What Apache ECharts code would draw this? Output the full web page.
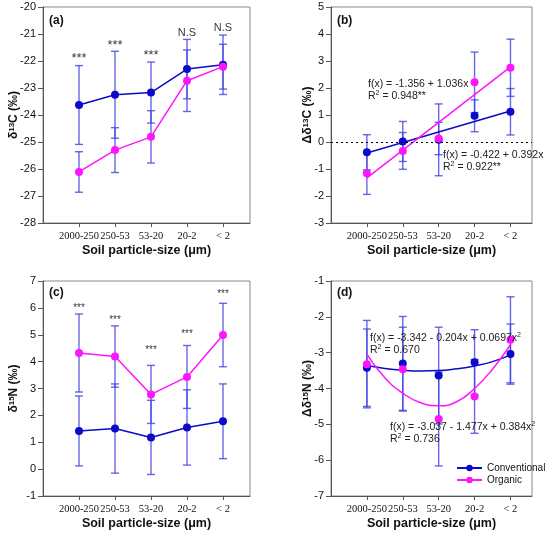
<!DOCTYPE html>
<html>
<head>
<meta charset="UTF-8">
<title>Soil particle-size isotopes</title>
<script src="https://cdn.jsdelivr.net/npm/echarts@6/dist/echarts.min.js"></script>
<style>
    html, body { margin: 0; padding: 0; background: #fff; }
    #chart { width: 550px; height: 535px; }
</style>
</head>
<body>
<div id="chart"></div>
<script>
// categories (x index 0..4)
const sizeClasses = ['2000-250', '250-53', '53-20', '20-2', '< 2'];
const xIdx = [0, 1, 2, 3, 4];

// (a) δ13C
const convC13 = [-23.63, -23.25, -23.17, -22.30, -22.14];
const convC13Err = [1.46, 1.61, 1.13, 1.10, 1.10];
const orgC13 = [-26.11, -25.30, -24.81, -22.73, -22.21];
const orgC13Err = [0.75, 0.83, 0.97, 1.14, 0.83];
const sigC13 = ['***', '***', '***', 'N.S', 'N.S'];
const sigC13Y = [-21.78, -21.32, -21.68, -20.95, -20.79];

// (b) Δδ13C
const convDC13 = [-0.38, 0.02, 0.08, 0.97, 1.12];
const convDC13Err = [0.65, 0.74, 1.33, 0.59, 0.86];
const orgDC13 = [-1.16, -0.33, 0.13, 2.21, 2.75];
const orgDC13Err = [0.78, 0.68, 0.60, 1.12, 1.06];
const fitXb = [0, 4];
const convDC13Fit = [-0.41, 1.15];
const orgDC13Fit = [-1.33, 2.78];

// (c) δ15N
const convN15 = [1.42, 1.51, 1.18, 1.55, 1.78];
const convN15Err = [1.30, 1.66, 1.38, 1.40, 1.39];
const orgN15 = [4.32, 4.19, 2.78, 3.43, 4.99];
const orgN15Err = [1.45, 1.14, 1.08, 1.17, 1.18];
const sigN15 = ['***', '***', '***', '***', '***'];
const sigN15Y = [6.08, 5.64, 4.50, 5.12, 6.60];

// (d) Δδ15N
const convDN15 = [-3.42, -3.30, -3.64, -3.27, -3.04];
const convDN15Err = [1.08, 1.31, 1.35, 0.91, 0.84];
const orgDN15 = [-3.32, -3.46, -4.85, -4.22, -2.64];
const orgDN15Err = [1.22, 1.17, 1.31, 1.03, 1.20];
const fitXd = [0, 0.5, 1, 1.5, 2, 2.5, 3, 3.5, 4];
const convDN15Fit = [-3.36, -3.44, -3.49, -3.51, -3.50, -3.45, -3.37, -3.25, -3.06];
const orgDN15Fit = [-3.04, -3.70, -4.13, -4.40, -4.48, -4.37, -4.00, -3.46, -2.78];

const sans = '"Liberation Sans", Arial, sans-serif';
const serif = '"Liberation Serif", "Times New Roman", serif';
const convColor = '#0a0ac8';
const orgColor = '#ff14ff';
const errColor = 'rgba(70,70,228,0.82)';
const axisColor = '#555';

const grids = [
    { left: 43, top: 7, width: 207, height: 216 },
    { left: 331, top: 7, width: 201, height: 216 },
    { left: 43, top: 281, width: 207, height: 215 },
    { left: 331, top: 281, width: 201, height: 215 }
].map(g => Object.assign({ show: true, borderColor: '#888', borderWidth: 1, outerBoundsMode: 'none' }, g));

function makeX(i, max) {
    return {
        type: 'value', gridIndex: i, min: -1, max: max,
        axisLine: { onZero: false, lineStyle: { color: axisColor } },
        splitLine: { show: false },
        axisTick: { customValues: xIdx, length: 4, lineStyle: { color: axisColor } },
        axisLabel: {
            customValues: xIdx,
            formatter: v => sizeClasses[Math.round(v)],
            fontFamily: serif, fontSize: 10.5, color: '#111', margin: 8
        },
        name: 'Soil particle-size (μm)', nameLocation: 'middle', nameGap: 21,
        nameMoveOverlap: false,
        nameTextStyle: { fontFamily: sans, fontWeight: 'bold', fontSize: 12.5, color: '#111' }
    };
}

function makeY(i, min, max, pre, sup, post, gap) {
    return {
        type: 'value', gridIndex: i, min: min, max: max, interval: 1,
        axisLine: { onZero: false, lineStyle: { color: axisColor } },
        splitLine: { show: false },
        axisTick: { length: 5, lineStyle: { color: axisColor } },
        axisLabel: { fontFamily: sans, fontSize: 11, color: '#111', margin: 7 },
        name: '{n|' + pre + '}{s|' + sup + '}{n|' + post + '}',
        nameLocation: 'middle', nameRotate: 90, nameGap: gap,
        nameMoveOverlap: false,
        nameTextStyle: {
            rich: {
                n: { fontFamily: sans, fontWeight: 'bold', fontSize: 12, color: '#111' },
                s: { fontFamily: sans, fontWeight: 'bold', fontSize: 8, color: '#111', verticalAlign: 'top' }
            }
        }
    };
}

function errSeries(i, means, errs) {
    return {
        type: 'custom', name: 'err', xAxisIndex: i, yAxisIndex: i, z: 1, silent: true,
        data: means.map((m, k) => [xIdx[k], m - errs[k], m + errs[k]]),
        encode: { x: 0, y: [1, 2] },
        renderItem: function (params, api) {
            const x = api.value(0);
            const lo = api.coord([x, api.value(1)]);
            const hi = api.coord([x, api.value(2)]);
            const w = 4;
            const st = { stroke: errColor, lineWidth: 1.4 };
            return {
                type: 'group', children: [
                    { type: 'line', shape: { x1: lo[0], y1: lo[1], x2: hi[0], y2: hi[1] }, style: st },
                    { type: 'line', shape: { x1: lo[0] - w, y1: lo[1], x2: lo[0] + w, y2: lo[1] }, style: st },
                    { type: 'line', shape: { x1: hi[0] - w, y1: hi[1], x2: hi[0] + w, y2: hi[1] }, style: st }
                ]
            };
        }
    };
}

function pointSeries(i, name, means, color, connect) {
    return {
        type: connect ? 'line' : 'scatter', name: name, xAxisIndex: i, yAxisIndex: i, z: 3,
        data: means.map((m, k) => [xIdx[k], m]),
        symbol: 'circle', symbolSize: 8, showSymbol: true,
        itemStyle: { color: color, opacity: 1 },
        lineStyle: { color: color, width: 1.5 }
    };
}

function fitSeries(i, xs, ys, color, smooth) {
    return {
        type: 'line', name: 'fit', xAxisIndex: i, yAxisIndex: i, z: 2, silent: true,
        data: xs.map((x, k) => [x, ys[k]]),
        symbol: 'none', smooth: smooth,
        lineStyle: { color: color, width: 1.5 }
    };
}

function sigSeries(i, labels, ys, size) {
    return {
        type: 'scatter', name: 'sig', xAxisIndex: i, yAxisIndex: i, z: 4, silent: true,
        // asterisks sit high in the text box, so push those boxes down a bit
        data: labels.map((t, k) => ({
            value: [xIdx[k], ys[k]], name: t,
            label: t === '***' ? { offset: [0, size * 0.25], fontSize: size } : { fontSize: 11 }
        })),
        symbolSize: 1, itemStyle: { color: 'rgba(0,0,0,0)' },
        label: {
            show: true, position: 'inside', formatter: p => p.name,
            fontFamily: sans, fontSize: size, color: '#000'
        }
    };
}

const seriesList = [
    // (a)
    errSeries(0, convC13, convC13Err),
    errSeries(0, orgC13, orgC13Err),
    pointSeries(0, 'Conventional', convC13, convColor, true),
    pointSeries(0, 'Organic', orgC13, orgColor, true),
    sigSeries(0, sigC13, sigC13Y, 13),
    // (b)
    errSeries(1, convDC13, convDC13Err),
    errSeries(1, orgDC13, orgDC13Err),
    fitSeries(1, fitXb, convDC13Fit, convColor, false),
    fitSeries(1, fitXb, orgDC13Fit, orgColor, false),
    Object.assign(pointSeries(1, 'Conventional', convDC13, convColor, false), {
        markLine: {
            silent: true, symbol: 'none', label: { show: false },
            lineStyle: { type: [2, 3], color: '#000', width: 1.2 },
            data: [{ yAxis: 0 }]
        }
    }),
    pointSeries(1, 'Organic', orgDC13, orgColor, false),
    // (c)
    errSeries(2, convN15, convN15Err),
    errSeries(2, orgN15, orgN15Err),
    pointSeries(2, 'Conventional', convN15, convColor, true),
    pointSeries(2, 'Organic', orgN15, orgColor, true),
    sigSeries(2, sigN15, sigN15Y, 10),
    // (d)
    errSeries(3, convDN15, convDN15Err),
    errSeries(3, orgDN15, orgDN15Err),
    fitSeries(3, fitXd, convDN15Fit, convColor, true),
    fitSeries(3, fitXd, orgDN15Fit, orgColor, true),
    pointSeries(3, 'Conventional', convDN15, convColor, false),
    pointSeries(3, 'Organic', orgDN15, orgColor, false)
];

const richEq = {
    a: { fontFamily: sans, fontSize: 10.5, fill: '#222', color: '#222' },
    s: { fontFamily: sans, fontSize: 7, fill: '#222', color: '#222', verticalAlign: 'top' }
};
function eqText(left, top, line1, line2) {
    return {
        type: 'text', left: left, top: top, silent: true, z: 10,
        style: { text: line1 + '\n' + line2, rich: richEq, lineHeight: 12 }
    };
}
function panelLabel(left, top, t) {
    return {
        type: 'text', left: left, top: top, silent: true, z: 10,
        style: { text: t, font: 'bold 12px ' + sans, fill: '#111' }
    };
}

const chart = echarts.init(document.getElementById('chart'), null, { renderer: 'canvas' });
chart.setOption({
    animation: false,
    backgroundColor: '#fff',
    grid: grids,
    xAxis: [makeX(0, 4.75), makeX(1, 4.6), makeX(2, 4.75), makeX(3, 4.6)],
    yAxis: [
        makeY(0, -28, -20, 'δ', '13', 'C (‰)', 23),
        makeY(1, -3, 5, 'Δδ', '13', 'C (‰)', 17),
        makeY(2, -1, 7, 'δ', '15', 'N (‰)', 23),
        makeY(3, -7, -1, 'Δδ', '15', 'N (‰)', 17)
    ],
    legend: {
        data: ['Conventional', 'Organic'],
        orient: 'vertical', left: 456, top: 463,
        itemWidth: 25, itemHeight: 8, itemGap: 2,
        selectedMode: false,
        textStyle: { fontFamily: sans, fontSize: 10, color: '#111' },
        padding: 0
    },
    graphic: [
        panelLabel(49, 15, '(a)'),
        panelLabel(337, 15, '(b)'),
        panelLabel(49, 287, '(c)'),
        panelLabel(337, 287, '(d)'),
        eqText(368, 78, '{a|f(x) = -1.356 + 1.036x}', '{a|R}{s|2}{a| = 0.948**}'),
        eqText(443, 149, '{a|f(x) = -0.422 + 0.392x}', '{a|R}{s|2}{a| = 0.922**}'),
        eqText(370, 332, '{a|f(x) = -3.342 - 0.204x + 0.0697x}{s|2}', '{a|R}{s|2}{a| = 0.670}'),
        eqText(390, 421, '{a|f(x) = -3.037 - 1.477x + 0.384x}{s|2}', '{a|R}{s|2}{a| = 0.736}')
    ],
    series: seriesList
});
</script>
</body>
</html>
